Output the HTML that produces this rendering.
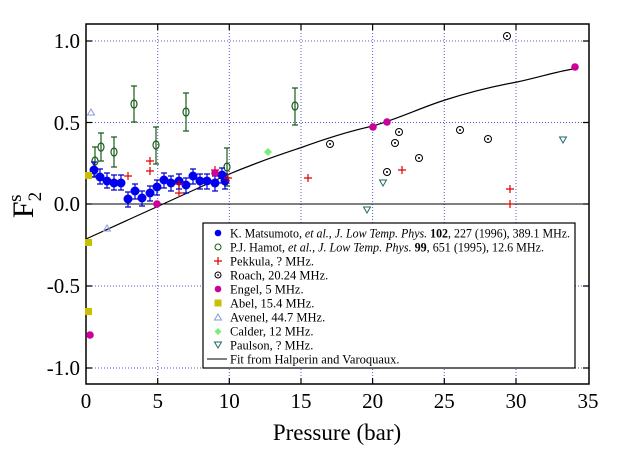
<!DOCTYPE html>
<html><head><meta charset="utf-8"><style>
html,body{margin:0;padding:0;background:#fff;}
svg{display:block;font-family:"Liberation Serif",serif;}
</style></head><body>
<svg width="641" height="450" viewBox="0 0 641 450" xmlns="http://www.w3.org/2000/svg">
<rect width="641" height="450" fill="#fff"/>
<g stroke="#5555cc" stroke-width="1" stroke-dasharray="1,2">
<line x1="157.7" y1="24" x2="157.7" y2="384"/><line x1="229.3" y1="24" x2="229.3" y2="384"/>
<line x1="301" y1="24" x2="301" y2="384"/><line x1="372.6" y1="24" x2="372.6" y2="384"/>
<line x1="444.3" y1="24" x2="444.3" y2="384"/><line x1="516" y1="24" x2="516" y2="384"/>
<line x1="86" y1="41" x2="589" y2="41"/><line x1="86" y1="122.5" x2="589" y2="122.5"/>
<line x1="86" y1="286" x2="589" y2="286"/><line x1="86" y1="368" x2="589" y2="368"/>
</g>
<line x1="86" y1="204" x2="589" y2="204" stroke="#000"/>
<rect x="86" y="24" width="503" height="360" fill="none" stroke="#000" stroke-width="1.5"/>
<g stroke="#000" stroke-width="1.2">
<path d="M86 41h6M86 122.5h6M86 204h6M86 286h6M86 368h6M589 41h-6M589 122.5h-6M589 204h-6M589 286h-6M589 368h-6"/>
<path d="M157.7 384v-6M229.3 384v-6M301 384v-6M372.6 384v-6M444.3 384v-6M516 384v-6M157.7 24v6M229.3 24v6M301 24v6M372.6 24v6M444.3 24v6M516 24v6"/>
</g>
<g font-size="21" text-anchor="end">
<text x="80" y="48">1.0</text><text x="80" y="130">0.5</text><text x="80" y="211">0.0</text>
<text x="80" y="293">-0.5</text><text x="80" y="375">-1.0</text>
</g>
<g font-size="21" text-anchor="middle">
<text x="86" y="408">0</text><text x="157.7" y="408">5</text><text x="229.3" y="408">10</text><text x="301" y="408">15</text>
<text x="372.6" y="408">20</text><text x="444.3" y="408">25</text><text x="516" y="408">30</text><text x="588" y="408">35</text>
</g>
<text x="337" y="440" font-size="23" text-anchor="middle">Pressure (bar)</text>
<g transform="translate(33,205) rotate(-90)"><text font-size="30" text-anchor="middle">F<tspan font-size="19" dy="8">2</tspan><tspan font-size="19" dx="-10" dy="-20">s</tspan></text></g>
<path fill="none" stroke="#000" stroke-width="1.2" d="M86 239 L130 219 C170 201 200 187 227 175 C260 161 285 153 300 148 C330 137 350 131 373 126 C400 118 420 108 445 100 C470 92 495 86 517 82 C540 77 555 72 573 69"/>
<!-- green hamot -->
<g stroke="#1a5c1a" stroke-width="1.2" fill="none">
<path d="M95 147v30M92 147h6M92 177h6"/><path d="M101 133v28M98 133h6M98 161h6"/>
<path d="M114 137v30M111 137h6M111 167h6"/><path d="M134 86v36M131 86h6M131 122h6"/>
<path d="M156 127v37M153 127h6M153 164h6"/><path d="M186 93v38M183 93h6M183 131h6"/>
<path d="M227 148v38M224 148h6M224 186h6"/><path d="M295 88v37M292 88h6M292 125h6"/>
<ellipse cx="95" cy="161" rx="3" ry="4"/><ellipse cx="101" cy="147" rx="3" ry="4"/><ellipse cx="114" cy="152" rx="3" ry="4"/>
<ellipse cx="134" cy="104" rx="3" ry="4"/><ellipse cx="156" cy="145" rx="3" ry="4"/><ellipse cx="186" cy="112" rx="3" ry="4"/>
<ellipse cx="227" cy="167" rx="3" ry="4"/><ellipse cx="295" cy="106" rx="3" ry="4"/>
</g>
<!-- blue matsumoto -->
<g stroke="#0000cc" stroke-width="1.2">
<path d="M94 162v15M100 169v15M107 173v15M114 175v15M121 175v15M128 192v15M135 184v15M142 191v15M150 186v15M157 180v15M164 173v15M171 176v15M179 174v15M186 178v15M193 169v15M200 174v15M207 174v15M215 176v15M222 168v15M225 174v15"/>
<path d="M91 162h6M91 177h6M97 169h6M97 184h6M104 173h6M104 188h6M111 175h6M111 190h6M118 175h6M118 190h6M125 192h6M125 207h6M132 184h6M132 199h6M139 191h6M139 206h6M147 186h6M147 201h6M154 180h6M154 195h6M161 173h6M161 188h6M168 176h6M168 191h6M176 174h6M176 189h6M183 178h6M183 193h6M190 169h6M190 184h6M197 174h6M197 189h6M204 174h6M204 189h6M212 176h6M212 191h6M219 168h6M219 183h6M222 174h6M222 189h6"/>
</g>
<g fill="#0000ee">
<circle cx="94" cy="170" r="4.5"/><circle cx="100" cy="177" r="4.5"/><circle cx="107" cy="181" r="4.5"/><circle cx="114" cy="183" r="4.5"/><circle cx="121" cy="183" r="4.5"/><circle cx="128" cy="199" r="4.5"/><circle cx="135" cy="191" r="4.5"/><circle cx="142" cy="198" r="4.5"/><circle cx="150" cy="193" r="4.5"/><circle cx="157" cy="187" r="4.5"/><circle cx="164" cy="180" r="4.5"/><circle cx="171" cy="183" r="4.5"/><circle cx="179" cy="181" r="4.5"/><circle cx="186" cy="185" r="4.5"/><circle cx="193" cy="176" r="4.5"/><circle cx="200" cy="181" r="4.5"/><circle cx="207" cy="181" r="4.5"/><circle cx="215" cy="183" r="4.5"/><circle cx="222" cy="175" r="4.5"/><circle cx="225" cy="181" r="4.5"/>
</g>
<!-- red pekkula -->
<g stroke="#e00000" stroke-width="1.2">
<path d="M124 176h8M128 172v8M146 161h8M150 157v8M146 171h8M150 167v8M175 184h8M179 180v8M175 193h8M179 189v8M211 170h8M215 166v8M224 178h8M228 174v8M304 178h8M308 174v8M398 170h8M402 166v8M506 189h8M510 185v8M506 204h8M510 200v8"/>
</g>
<!-- roach -->
<g stroke="#000" fill="none" stroke-width="1">
<circle cx="507" cy="36" r="3.5"/><circle cx="330" cy="144" r="3.5"/><circle cx="399" cy="132" r="3.5"/><circle cx="395" cy="143" r="3.5"/><circle cx="460" cy="130" r="3.5"/><circle cx="488" cy="139" r="3.5"/><circle cx="419" cy="158" r="3.5"/><circle cx="387" cy="172" r="3.5"/>
</g>
<g fill="#000"><circle cx="507" cy="36" r="1"/><circle cx="330" cy="144" r="1"/><circle cx="399" cy="132" r="1"/><circle cx="395" cy="143" r="1"/><circle cx="460" cy="130" r="1"/><circle cx="488" cy="139" r="1"/><circle cx="419" cy="158" r="1"/><circle cx="387" cy="172" r="1"/></g>
<!-- engel -->
<g fill="#cc0099"><circle cx="157" cy="204" r="3.8"/><circle cx="215" cy="173" r="3.8"/><circle cx="373" cy="127" r="3.8"/><circle cx="387" cy="122" r="3.8"/><circle cx="575" cy="67" r="3.8"/><circle cx="90" cy="335" r="3.8"/></g>
<!-- abel -->
<g fill="#c8c000"><rect x="85" y="172" width="7" height="7"/><rect x="85" y="239" width="7" height="7"/><rect x="85" y="308" width="7" height="7"/></g>
<!-- avenel -->
<g fill="none" stroke="#8899dd"><path d="M91 109l-3.5 6h7z"/><path d="M107 225l-3.5 6h7z"/></g>
<!-- calder -->
<path d="M268 148l4 4-4 4-4-4z" fill="#77ee77"/>
<!-- paulson -->
<g fill="none" stroke="#226666"><path d="M563 143l-3.5-6h7z"/><path d="M383 186l-3.5-6h7z"/><path d="M367 213l-3.5-6h7z"/></g>
<!-- legend -->
<rect x="203" y="223" width="372" height="145" fill="#fff" stroke="#000" stroke-width="1.2"/>
<g font-size="12.5">
<circle cx="218" cy="233" r="3.3" fill="#0000ee"/>
<text x="230" y="237.5" textLength="340" lengthAdjust="spacingAndGlyphs">K. Matsumoto, <tspan font-style="italic">et al., J. Low Temp. Phys.</tspan> <tspan font-weight="bold">102</tspan>, 227 (1996), 389.1 MHz.</text>
<circle cx="218" cy="247" r="3" fill="none" stroke="#1a5c1a"/>
<text x="230" y="251.5" textLength="314" lengthAdjust="spacingAndGlyphs">P.J. Hamot, <tspan font-style="italic">et al., J. Low Temp. Phys.</tspan> <tspan font-weight="bold">99</tspan>, 651 (1995), 12.6 MHz.</text>
<path d="M214 261h8M218 257v8" stroke="#e00000" stroke-width="1.2"/>
<text x="230" y="265.5">Pekkula, ? MHz.</text>
<circle cx="218" cy="275" r="3" fill="none" stroke="#000"/><circle cx="218" cy="275" r="0.9"/>
<text x="230" y="279.5">Roach, 20.24 MHz.</text>
<circle cx="218" cy="289" r="3.3" fill="#cc0099"/>
<text x="230" y="293.5">Engel, 5 MHz.</text>
<rect x="214.5" y="299.5" width="7" height="7" fill="#c8c000"/>
<text x="230" y="307.5">Abel, 15.4 MHz.</text>
<path d="M218 314l-3.5 6h7z" fill="none" stroke="#8899dd"/>
<text x="230" y="321.5">Avenel, 44.7 MHz.</text>
<path d="M218 328l3.5 3.5-3.5 3.5-3.5-3.5z" fill="#77ee77"/>
<text x="230" y="335.5">Calder, 12 MHz.</text>
<path d="M218 348l-3.5-6h7z" fill="none" stroke="#226666"/>
<text x="230" y="349.5">Paulson, ? MHz.</text>
<line x1="207" y1="359" x2="227" y2="359" stroke="#000"/>
<text x="230" y="363.5">Fit from Halperin and Varoquaux.</text>
</g>
</svg>
</body></html>
